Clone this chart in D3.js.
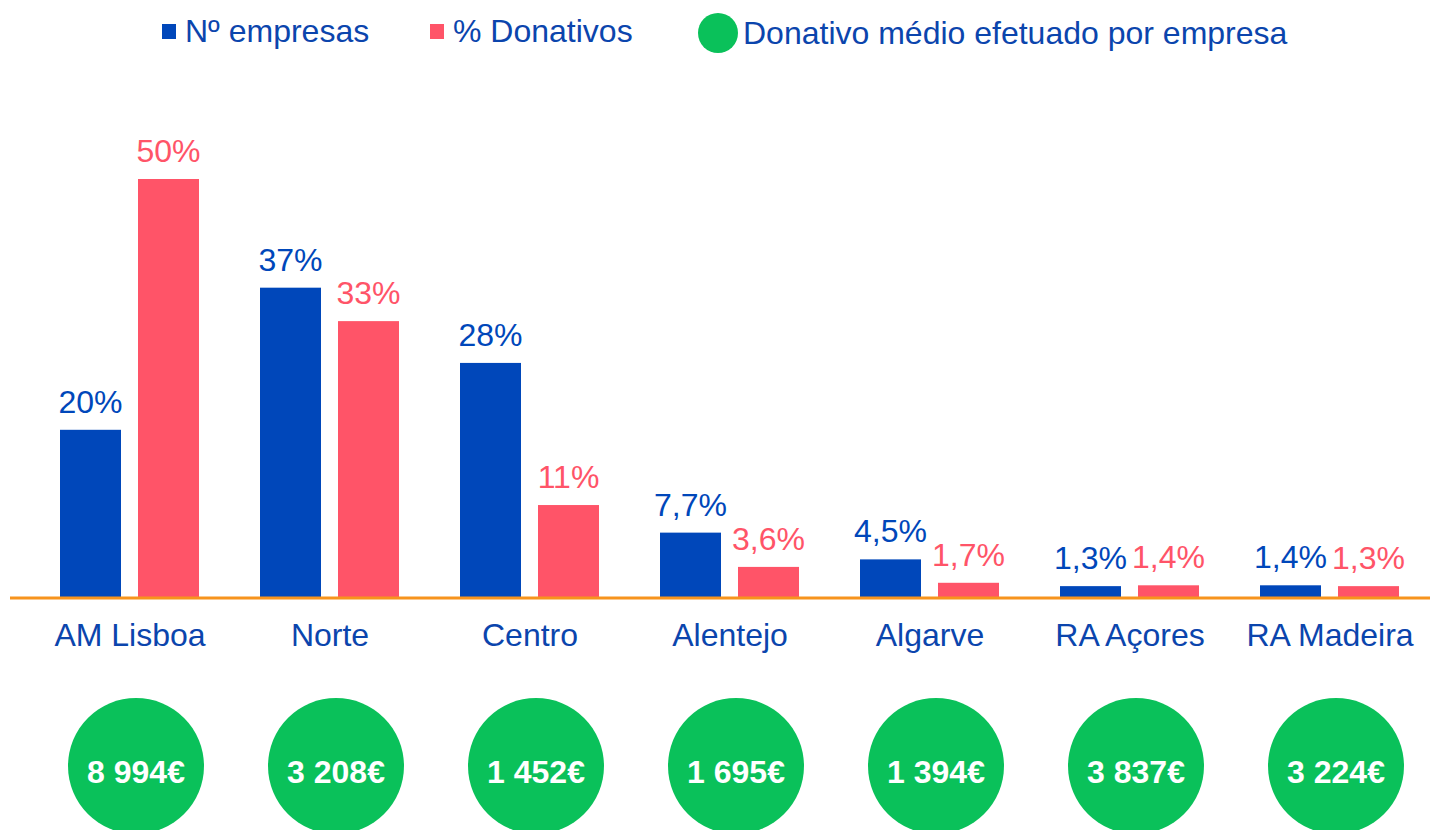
<!DOCTYPE html>
<html>
<head>
<meta charset="utf-8">
<script src="https://cdnjs.cloudflare.com/ajax/libs/d3/7.8.5/d3.min.js"></script>
<style>
    body { margin: 0; background: #fff; }
    text { font-family: Arial, "Liberation Sans", sans-serif; }
</style>
</head>
<body>
<svg id="canvas"></svg>
<script>
var w = 1430
var h = 830

// ########## Data ##########
var regions = ["AM Lisboa", "Norte", "Centro", "Alentejo", "Algarve", "RA Açores", "RA Madeira"];
var series = ["Nº empresas", "% Donativos"];
var empresas = [20, 37, 28, 7.7, 4.5, 1.3, 1.4];
var donativos = [50, 33, 11, 3.6, 1.7, 1.4, 1.3];
var donativoMedio = ["8 994€", "3 208€", "1 452€", "1 695€", "1 394€", "3 837€", "3 224€"];
var circleLabel = "Donativo médio efetuado por empresa";

var blue = "#0047ba";
var red = "#ff5468";
var green = "#0ac15a";
var orange = "#f7941d";
var textBlue = "#0b45ad";

// ########## SVG ##########
var svg = d3.select("#canvas")
    .attr("width", w)
    .attr("height", h);

var baseY = 597;

var x0 = d3.scaleBand()
    .domain(regions)
    .range([30, 1430]);

var x1 = d3.scaleBand()
    .domain(series)
    .range([-70, 69])
    .paddingInner(0.218);

var y = d3.scaleLinear()
    .domain([0, 50])
    .range([baseY, 179]);

var rows = regions.map(function (r, i) {
    return { region: r, values: [
        { key: series[0], v: empresas[i], color: blue },
        { key: series[1], v: donativos[i], color: red }
    ], medio: donativoMedio[i] };
});

function fmt(v) {
    var s = v >= 10 ? d3.format(".0f")(v) : d3.format(".1f")(v);
    return s.replace(".", ",") + "%";
}

// ########## Bars ##########
var group = svg.selectAll(".group")
    .data(rows).enter()
    .append("g")
    .attr("class", "group")
    .attr("transform", function (d) { return "translate(" + (x0(d.region) + x0.bandwidth() / 2) + ",0)"; });

group.selectAll("rect")
    .data(function (d) { return d.values; }).enter()
    .append("rect")
    .attr("x", function (d) { return x1(d.key); })
    .attr("width", x1.bandwidth())
    .attr("y", function (d) { return y(d.v); })
    .attr("height", function (d) { return baseY - y(d.v); })
    .attr("fill", function (d) { return d.color; });

group.selectAll(".val")
    .data(function (d) { return d.values; }).enter()
    .append("text")
    .attr("class", "val")
    .attr("x", function (d) { return x1(d.key) + x1.bandwidth() / 2; })
    .attr("y", function (d) { return y(d.v) - 17; })
    .attr("text-anchor", "middle")
    .attr("font-size", 32)
    .attr("fill", function (d) { return d.color; })
    .text(function (d) { return fmt(d.v); });

// ########## Axis line ##########
svg.append("line")
    .attr("x1", 10)
    .attr("x2", w)
    .attr("y1", baseY + 1)
    .attr("y2", baseY + 1)
    .attr("stroke", orange)
    .attr("stroke-width", 3);

// ########## Category labels ##########
var xAxis = svg.append("g")
    .attr("transform", "translate(0," + (baseY + 2) + ")")
    .call(d3.axisBottom(x0).tickSize(0).tickPadding(24));
xAxis.select(".domain").remove();
xAxis.selectAll("text")
    .attr("font-size", 32)
    .attr("font-family", "Arial, 'Liberation Sans', sans-serif")
    .attr("fill", textBlue);

// ########## Circles ##########
var bubble = group.append("g")
    .attr("transform", "translate(6,766)");

bubble.append("circle")
    .attr("r", 68)
    .attr("fill", green);

bubble.append("text")
    .attr("y", 17)
    .attr("text-anchor", "middle")
    .attr("font-size", 32)
    .attr("font-weight", "bold")
    .attr("fill", "#fff")
    .text(function (d) { return d.medio; });

// ########## Legend ##########
var legend = svg.append("g");

var legendItems = [
    { label: series[0], color: blue, x: 162 },
    { label: series[1], color: red, x: 430 }
];

legendItems.forEach(function (d) {
    legend.append("rect")
        .attr("x", d.x)
        .attr("y", 24)
        .attr("width", 14)
        .attr("height", 15)
        .attr("fill", d.color);
    legend.append("text")
        .attr("x", d.x + 23)
        .attr("y", 42)
        .attr("font-size", 32)
        .attr("fill", textBlue)
        .text(d.label);
});

legend.append("circle")
    .attr("cx", 718)
    .attr("cy", 33)
    .attr("r", 20)
    .attr("fill", green);

legend.append("text")
    .attr("x", 743)
    .attr("y", 44)
    .attr("font-size", 32)
    .attr("fill", textBlue)
    .text(circleLabel);
</script>
</body>
</html>
